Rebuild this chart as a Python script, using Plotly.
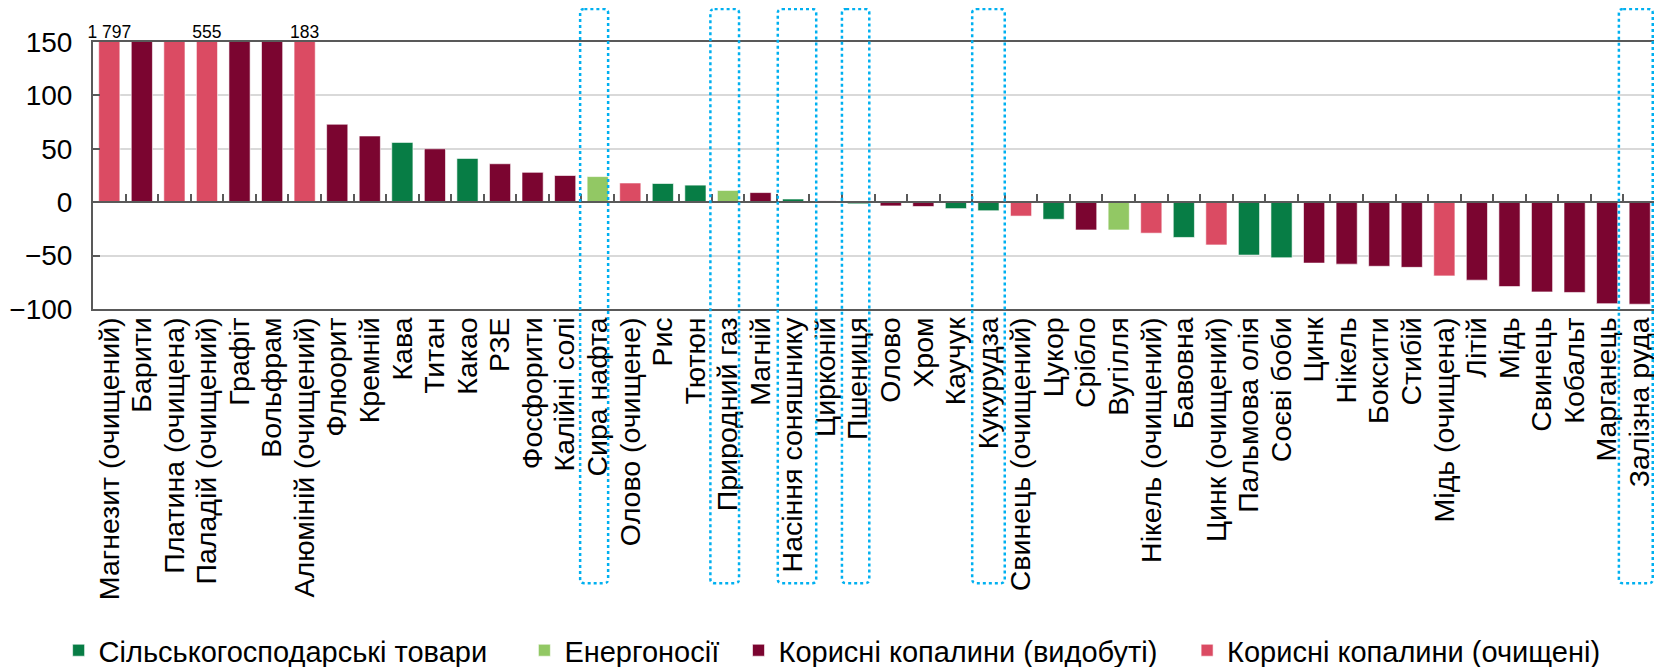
import plotly.graph_objects as go

# Categories in chart order
categories = [
    "Магнезит (очищений)", "Барити", "Платина (очищена)", "Паладій (очищений)", "Графіт",
    "Вольфрам", "Алюміній (очищений)", "Флюорит", "Кремній", "Кава", "Титан", "Какао",
    "РЗЕ", "Фосфорити", "Калійні солі", "Сира нафта", "Олово (очищене)", "Рис", "Тютюн",
    "Природний газ", "Магній", "Насіння соняшнику", "Цирконій", "Пшениця", "Олово", "Хром",
    "Каучук", "Кукурудза", "Свинець (очищений)", "Цукор", "Срібло", "Вугілля",
    "Нікель (очищений)", "Бавовна", "Цинк (очищений)", "Пальмова олія", "Соєві боби", "Цинк",
    "Нікель", "Боксити", "Стибій", "Мідь (очищена)", "Літій", "Мідь", "Свинець", "Кобальт",
    "Марганець", "Залізна руда",
]

values = [
    1797, 900, 650, 555, 400, 250, 183, 73, 62, 56, 50, 41,
    36, 28, 25, 24, 18, 17.5, 16, 11, 9, 3, 1.2, -1.5, -3.5, -4,
    -6, -8, -13, -16, -26, -26, -29, -33, -40, -49.5, -52, -57,
    -58, -60, -61, -69, -73, -79, -84, -84.5, -95, -95.5,
]

# A = agriculture, E = energy, M = mined minerals, R = refined minerals
groups = [
    "R", "M", "R", "R", "M", "M", "R", "M", "M", "A", "M", "A",
    "M", "M", "M", "E", "R", "A", "A", "E", "M", "A", "M", "A", "M", "M",
    "A", "A", "R", "A", "M", "E", "R", "A", "R", "A", "A", "M",
    "M", "M", "M", "R", "M", "M", "M", "M", "M", "M",
]

# labels shown above the bars that run off the axis
bar_labels = {"Магнезит (очищений)": "1 797", "Паладій (очищений)": "555",
              "Алюміній (очищений)": "183"}

highlighted = ["Сира нафта", "Природний газ", "Насіння соняшнику", "Пшениця",
               "Кукурудза", "Залізна руда"]

group_names = {
    "A": "Сільськогосподарські товари",
    "E": "Енергоносії",
    "M": "Корисні копалини (видобуті)",
    "R": "Корисні копалини (очищені)",
}
group_colors = {"A": "#077D45", "E": "#92C864", "M": "#7B0530", "R": "#DB4B63"}

FONT = "Arial, Liberation Sans, sans-serif"
AXIS = "#595959"
Y_MIN, Y_MAX = -100, 150

fig = go.Figure()

# one legend per group so the entries can sit where the original has them
legend_x = {"A": -0.022, "E": 0.276, "M": 0.413, "R": 0.700}
for k, g in enumerate(["A", "E", "M", "R"]):
    xs = [c for c, gg in zip(categories, groups) if gg == g]
    ys = [v for v, gg in zip(values, groups) if gg == g]
    fig.add_trace(go.Bar(
        x=xs, y=ys, name=group_names[g],
        marker=dict(color=group_colors[g], line=dict(color="rgba(255,255,255,0.6)", width=1)),
        width=0.65,
        legend="legend" if k == 0 else f"legend{k + 1}",
    ))

# value labels for clipped bars
fig.add_trace(go.Scatter(
    x=categories,
    y=[min(v, Y_MAX) for v in values],
    text=[bar_labels.get(c, "") for c in categories],
    mode="text", textposition="top center",
    textfont=dict(size=17.5, color="black", family=FONT),
    cliponaxis=False, showlegend=False, hoverinfo="skip",
))

# invisible trace that carries the zero-line axis with the category ticks
fig.add_trace(go.Scatter(
    x=categories, y=[0] * len(categories), xaxis="x2", mode="markers",
    marker=dict(opacity=0), showlegend=False, hoverinfo="skip",
))

# dotted highlight boxes (half width, centre shift in category units)
box_geom = {
    "Сира нафта": (0.43, -0.11),
    "Природний газ": (0.44, -0.1),
    "Насіння соняшнику": (0.59, 0.12),
    "Пшениця": (0.42, -0.08),
    "Кукурудза": (0.5, 0.0),
    "Залізна руда": (0.52, -0.12),
}
y_top, y_bot = 1.1236, -1.027
rx, ry = 0.13, 0.015
for name in highlighted:
    i = categories.index(name)
    h, dx = box_geom[name]
    x0, x1 = i + dx - h, i + dx + h
    path = (f"M {x0 + rx},{y_top} L {x1 - rx},{y_top} Q {x1},{y_top} {x1},{y_top - ry} "
            f"L {x1},{y_bot + ry} Q {x1},{y_bot} {x1 - rx},{y_bot} "
            f"L {x0 + rx},{y_bot} Q {x0},{y_bot} {x0},{y_bot + ry} "
            f"L {x0},{y_top - ry} Q {x0},{y_top} {x0 + rx},{y_top} Z")
    fig.add_shape(type="path", path=path, xref="x", yref="paper",
                  line=dict(color="#00B0F0", width=2.5, dash="dot"), layer="above")

leg_common = dict(orientation="h", xanchor="left", y=-1.2785, yanchor="middle",
                  font=dict(size=29, family=FONT), itemwidth=30, bgcolor="rgba(0,0,0,0)")

# page has an 8px body margin, so the figure is 8px smaller than the window
fig.update_layout(
    width=1654, height=659,
    margin=dict(l=85, r=6, t=34, b=358, autoexpand=False),
    plot_bgcolor="white", paper_bgcolor="white",
    font=dict(family=FONT, size=28, color="black"),
    barmode="overlay",
    showlegend=True,
    legend=dict(x=legend_x["A"], **leg_common),
    legend2=dict(x=legend_x["E"], **leg_common),
    legend3=dict(x=legend_x["M"], **leg_common),
    legend4=dict(x=legend_x["R"], **leg_common),
    xaxis=dict(
        type="category", categoryorder="array", categoryarray=categories,
        range=[-0.5, len(categories) - 0.5],
        tickmode="array", tickvals=categories, ticktext=categories,
        tickangle=-90, tickfont=dict(size=28.5, family=FONT),
        showline=True, linecolor=AXIS, linewidth=2, mirror=True,
        ticks="", showgrid=False, automargin=False, ticklabelstandoff=-5,
    ),
    xaxis2=dict(
        type="category", categoryorder="array", categoryarray=categories,
        overlaying="x", matches="x", anchor="free", position=(0 - Y_MIN) / (Y_MAX - Y_MIN),
        side="bottom", showticklabels=False, showgrid=False,
        showline=True, linecolor=AXIS, linewidth=2,
        ticks="inside", ticklen=7, tickwidth=2, tickcolor=AXIS, tickson="boundaries",
    ),
    yaxis=dict(
        range=[Y_MIN, Y_MAX], dtick=50, tickfont=dict(size=28, family=FONT),
        showline=True, linecolor=AXIS, linewidth=2, mirror=True,
        ticks="inside", ticklen=7, tickwidth=2, tickcolor=AXIS,
        showgrid=True, gridcolor="#D9D9D9", gridwidth=1.5, zeroline=False,
        ticklabelstandoff=13, automargin=False,
    ),
)

fig.write_html("out.html")
